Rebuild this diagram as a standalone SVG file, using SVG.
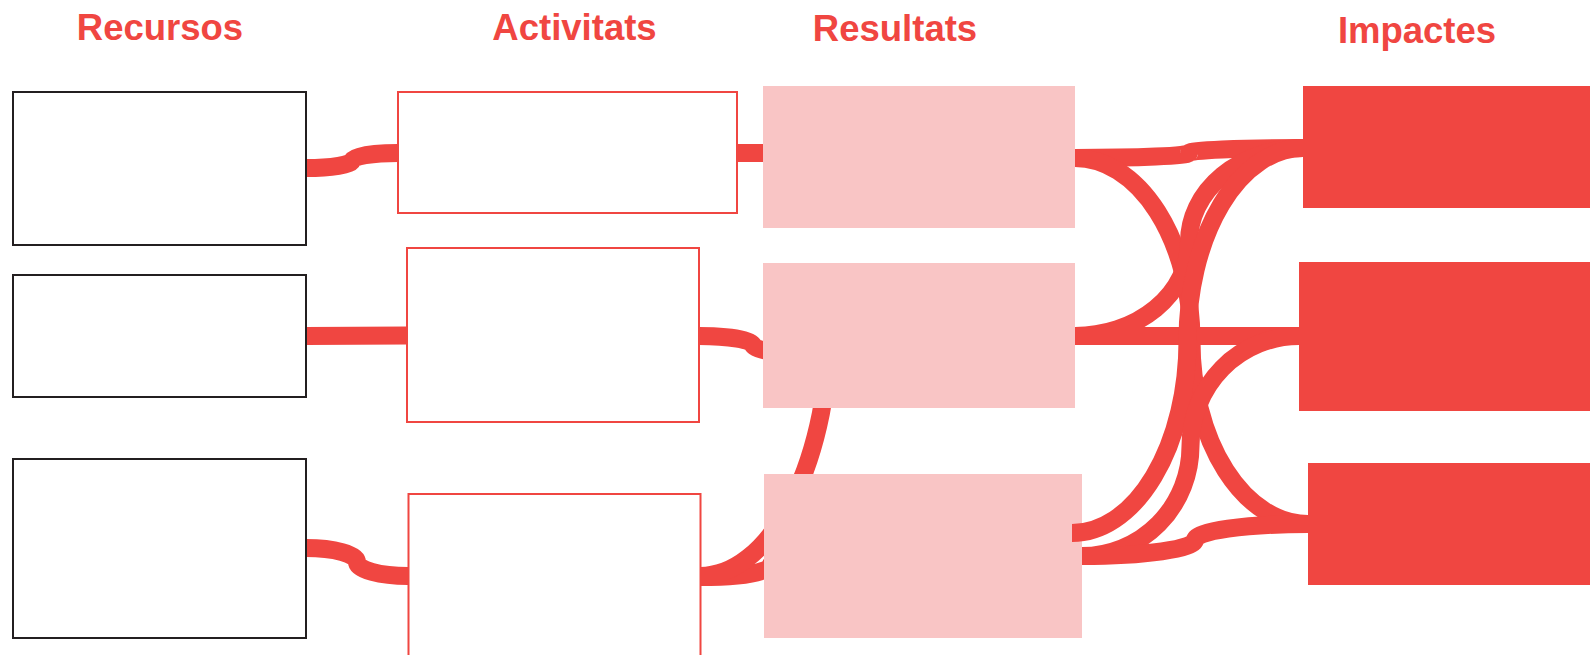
<svg xmlns="http://www.w3.org/2000/svg" width="1590" height="655" viewBox="0 0 1590 655">
<style>
.title{font-family:"Liberation Sans",Arial,sans-serif;font-weight:bold;font-size:36.5px;fill:#F04641;text-anchor:middle}
.rec{fill:#FFFFFF;stroke:#231F20;stroke-width:2}
.act{fill:#FFFFFF;stroke:#F04641;stroke-width:2}
.res{fill:#F9C5C5}
.imp{fill:#F04641}
.link{fill:none;stroke:#F04641;stroke-width:18}
</style>
<rect width="1590" height="655" fill="#FFFFFF"/>
<g id="titles">
<text class="title" x="160" y="40">Recursos</text>
<text class="title" x="574.5" y="40">Activitats</text>
<text class="title" x="895" y="40.5">Resultats</text>
<text class="title" x="1417" y="43.3">Impactes</text>
</g>
<g id="connectors-left">
<path class="link" d="M306,168 A46,7.5 0 0 0 352,160.5 A46,7.5 0 0 1 398,153"/>
<path class="link" d="M306,336 L407,335.5"/>
<path class="link" d="M306,548 A51,14 0 0 1 357,562 A51,14 0 0 0 408,576"/>
<path class="link" d="M737,153 L790,153"/>
<path class="link" d="M699,336 A54,9 0 0 1 753,345 A54,9 0 0 0 807,354"/>
<path class="link" d="M700,577 A70,11 0 0 0 770,566 A70,11 0 0 1 840,555"/>
<path class="link" d="M700,576 A130,257 0 0 0 830,319"/>
</g>
<g id="recurs-1"><rect class="rec" x="13" y="92" width="293" height="153"/></g>
<g id="recurs-2"><rect class="rec" x="13" y="275" width="293" height="122"/></g>
<g id="recurs-3"><rect class="rec" x="13" y="459" width="293" height="179"/></g>
<g id="activitat-1"><rect class="act" x="398" y="92" width="339" height="121"/></g>
<g id="activitat-2"><rect class="act" x="407" y="248" width="292" height="174"/></g>
<g id="activitat-3"><rect class="act" x="408.5" y="494" width="292" height="170"/></g>
<g id="resultat-1"><rect class="res" x="763" y="86" width="312" height="142"/></g>
<g id="resultat-2"><rect class="res" x="763" y="263" width="312" height="145"/></g>
<g id="resultat-3"><rect class="res" x="764" y="474" width="318" height="164"/></g>
<g id="connectors-right">
<path class="link" d="M1075,158 A114,5 0 0 0 1189,153 A114,5 0 0 1 1303,148"/>
<path class="link" d="M1075,158 A116.5,183 0 0 1 1191.5,341 A116.5,183 0 0 0 1308,524"/>
<path class="link" d="M1075,336 A114,94 0 0 0 1189,242 A114,94 0 0 1 1303,148"/>
<path class="link" d="M1075,336 L1299,336"/>
<path class="link" d="M1072,533 A115.5,192.5 0 0 0 1187.5,340.5 A115.5,192.5 0 0 1 1303,148"/>
<path class="link" d="M1082,556 A108.5,110 0 0 0 1190.5,446 A108.5,110 0 0 1 1299,336"/>
<path class="link" d="M1082,556 A113,16 0 0 0 1195,540 A113,16 0 0 1 1308,524"/>
</g>
<g id="impacte-1"><rect class="imp" x="1303" y="86" width="287" height="122"/></g>
<g id="impacte-2"><rect class="imp" x="1299" y="262" width="291" height="149"/></g>
<g id="impacte-3"><rect class="imp" x="1308" y="463" width="282" height="122"/></g>
</svg>
